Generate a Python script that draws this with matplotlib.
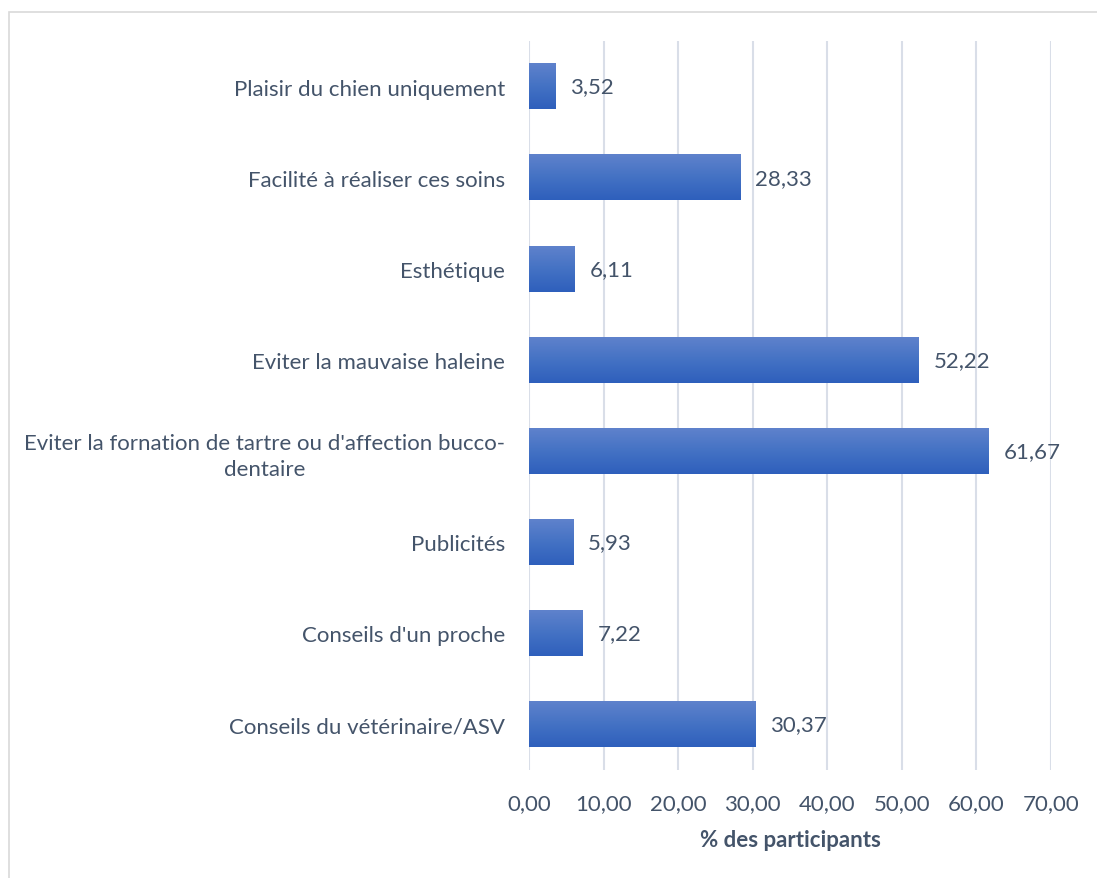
import matplotlib.pyplot as plt
import numpy as np
from matplotlib.patches import Rectangle

# categories from bottom to top
categories = [
    "Conseils du vétérinaire/ASV",
    "Conseils d'un proche",
    "Publicités",
    "Eviter la fornation de tartre ou d'affection bucco-\ndentaire",
    "Eviter la mauvaise haleine",
    "Esthétique",
    "Facilité à réaliser ces soins",
    "Plaisir du chien uniquement",
]
values = [30.37, 7.22, 5.93, 61.67, 52.22, 6.11, 28.33, 3.52]
xticks = [0, 10, 20, 30, 40, 50, 60, 70]

plt.rcParams['font.family'] = ['Lato', 'DejaVu Sans']
text_color = '#44546A'
fs = 16

fig = plt.figure(figsize=(10.97, 8.79), dpi=100)
ax = fig.add_axes([0.4822, 0.1229, 0.4759, 0.8293])

# chart frame
fig.patches.append(Rectangle((9 / 1097, -0.05), 1.1, 1 - 13 / 879 + 0.05,
                             transform=fig.transFigure, fill=False,
                             edgecolor='#D9D9D9', linewidth=1.2))

# gradient bars
grad = np.linspace(0, 1, 256).reshape(-1, 1)
cmap = plt.matplotlib.colors.LinearSegmentedColormap.from_list(
    'g', ['#2E5FBC', '#4472C4', '#5F82CC'])
h = 0.5
y = np.arange(len(categories))
for yi, v in zip(y, values):
    ax.imshow(grad, extent=(0, v, yi - h / 2, yi + h / 2), origin='lower',
              cmap=cmap, aspect='auto', zorder=2)
    ax.text(v + 2.0, yi, f"{v:.2f}".replace('.', ','), va='center', ha='left',
            fontsize=fs, color=text_color)

ax.set_xlim(0, 70)
ax.set_ylim(-0.5, len(categories) - 0.5)
ax.set_yticks(y)
ax.set_yticklabels(categories, fontsize=fs, color=text_color,
                   multialignment='center', linespacing=1.35)
ax.set_xticks(xticks)
ax.set_xticklabels([f"{t:.2f}".replace('.', ',') for t in xticks],
                   fontsize=fs, color=text_color)
ax.tick_params(axis='y', length=0, pad=17)
ax.tick_params(axis='x', length=0, pad=17)
ax.grid(axis='x', color='#D9DEE8', linewidth=1.5, zorder=0)
ax.set_axisbelow(True)
for s in ax.spines.values():
    s.set_visible(False)
ax.set_xlabel('% des participants', fontsize=fs, fontweight='bold',
              color=text_color, labelpad=11)

fig.savefig('out.png', dpi=100)
